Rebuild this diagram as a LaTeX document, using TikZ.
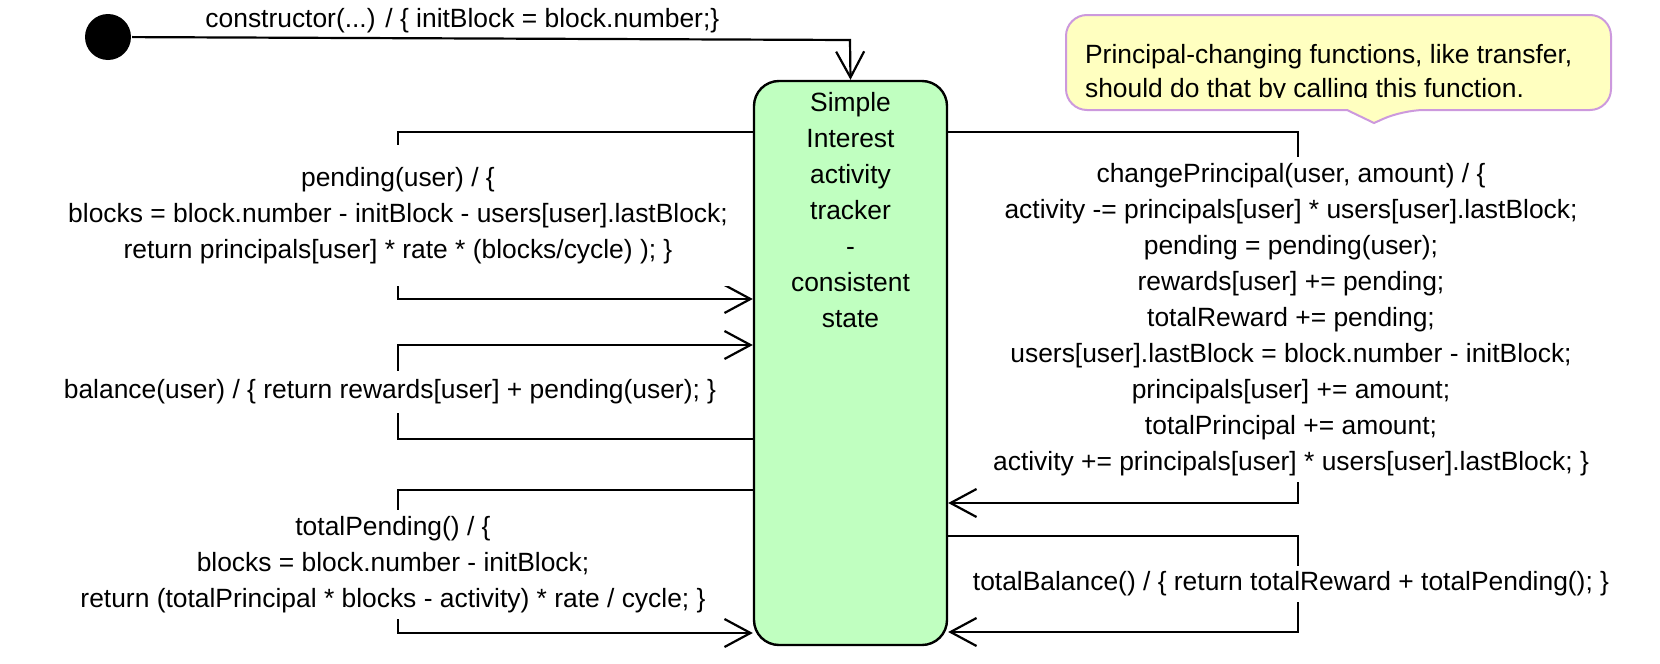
\documentclass[tikz,border=0pt]{standalone}
\usepackage{fontspec}
\setmainfont{Liberation Sans}
\usetikzlibrary{arrows.meta}

\definecolor{stategreen}{RGB}{192,255,192}
\definecolor{noteyellow}{RGB}{255,255,192}
\definecolor{notelilac}{RGB}{204,153,221}

\begin{document}
\begin{tikzpicture}[x=0.5pt,y=-0.5pt,->,>={Straight Barb[length=13pt,width=14pt]},line width=1.1pt,
  font=\fontsize{13.2pt}{18pt}\selectfont,
  superstate/.style={draw,fill=stategreen,rounded corners=12.5pt,line width=1.2pt,minimum width=96.5pt,minimum height=282pt,inner sep=0pt},
  lbl/.style={fill=white,align=center,inner xsep=2pt,inner ysep=3pt},
  note/.style={-,draw=notelilac,fill=noteyellow,line width=1pt}]

\useasboundingbox (0,0) rectangle (1660,664);

\node[superstate](S) at (850.5,363){};
\node[anchor=north,align=center,inner sep=0pt](Stxt) at (850.5,91){Simple\\Interest\\activity\\tracker\\-\\consistent\\state};
\node[circle,fill=black,minimum size=23pt,inner sep=0pt](init) at (108,37){};

\coordinate(c0) at (850,40);
\coordinate(p1) at (398,132);
\coordinate(p2) at (398,299);
\coordinate(b1) at (398,439);
\coordinate(b2) at (398,345);
\coordinate(t1) at (398,490);
\coordinate(t2) at (398,633);
\coordinate(cp1) at (1298,132);
\coordinate(cp2) at (1298,503);
\coordinate(tb1) at (1298,536);
\coordinate(tb2) at (1298,632);

\draw (init) -- node[pos=.46,above,inner sep=2pt](lcons){constructor(...) / \{ initBlock = block.number;\}} (c0) -- (S.north);

\draw (S.west|-p1) -- (p1) -- node[lbl,inner ysep=11pt](lpend){pending(user) / \{\\blocks = block.number - initBlock - users[user].lastBlock;\\return principals[user] * rate * (blocks/cycle) ); \}} (p2) -- (S.west|-p2);
\draw (S.west|-b1) -- (b1) -- node[lbl,inner ysep=4.5pt,xshift=-4pt](lbal){balance(user) / \{ return rewards[user] + pending(user); \}} (b2) -- (S.west|-b2);
\draw (S.west|-t1) -- (t1) -- node[lbl,xshift=-2.5pt,yshift=-1.5pt](ltpend){totalPending() / \{\\blocks = block.number - initBlock;\\return (totalPrincipal * blocks - activity) * rate / cycle; \}} (t2) -- (S.west|-t2);

\draw (S.east|-cp1) -- (cp1) -- node[lbl,xshift=-3.5pt,yshift=-1pt](lchg){changePrincipal(user, amount) / \{\\activity -= principals[user] * users[user].lastBlock;\\pending = pending(user);\\rewards[user] += pending;\\totalReward += pending;\\users[user].lastBlock = block.number - initBlock;\\principals[user] += amount;\\totalPrincipal += amount;\\activity += principals[user] * users[user].lastBlock; \}} (cp2) -- (S.east|-cp2);
\draw (S.east|-tb1) -- (tb1) -- node[lbl,xshift=-3.5pt](ltbal){totalBalance() / \{ return totalReward + totalPending(); \}} (tb2) -- (S.east|-tb2);

\draw[note] (1374,123) -- (1347,110) [rounded corners=10.5pt] -- (1066,110) -- (1066,15) -- (1611,15) -- (1611,110) -- (1403,110) [sharp corners] -- cycle;
\begin{scope}
\clip (1066,15) rectangle (1611,97.5);
\node[anchor=north west,align=left,inner sep=0pt,font=\fontsize{13.2pt}{17pt}\selectfont](notetxt) at (1084,43){Principal-changing functions, like transfer,\\should do that by calling this function.};
\end{scope}

\end{tikzpicture}
\end{document}
